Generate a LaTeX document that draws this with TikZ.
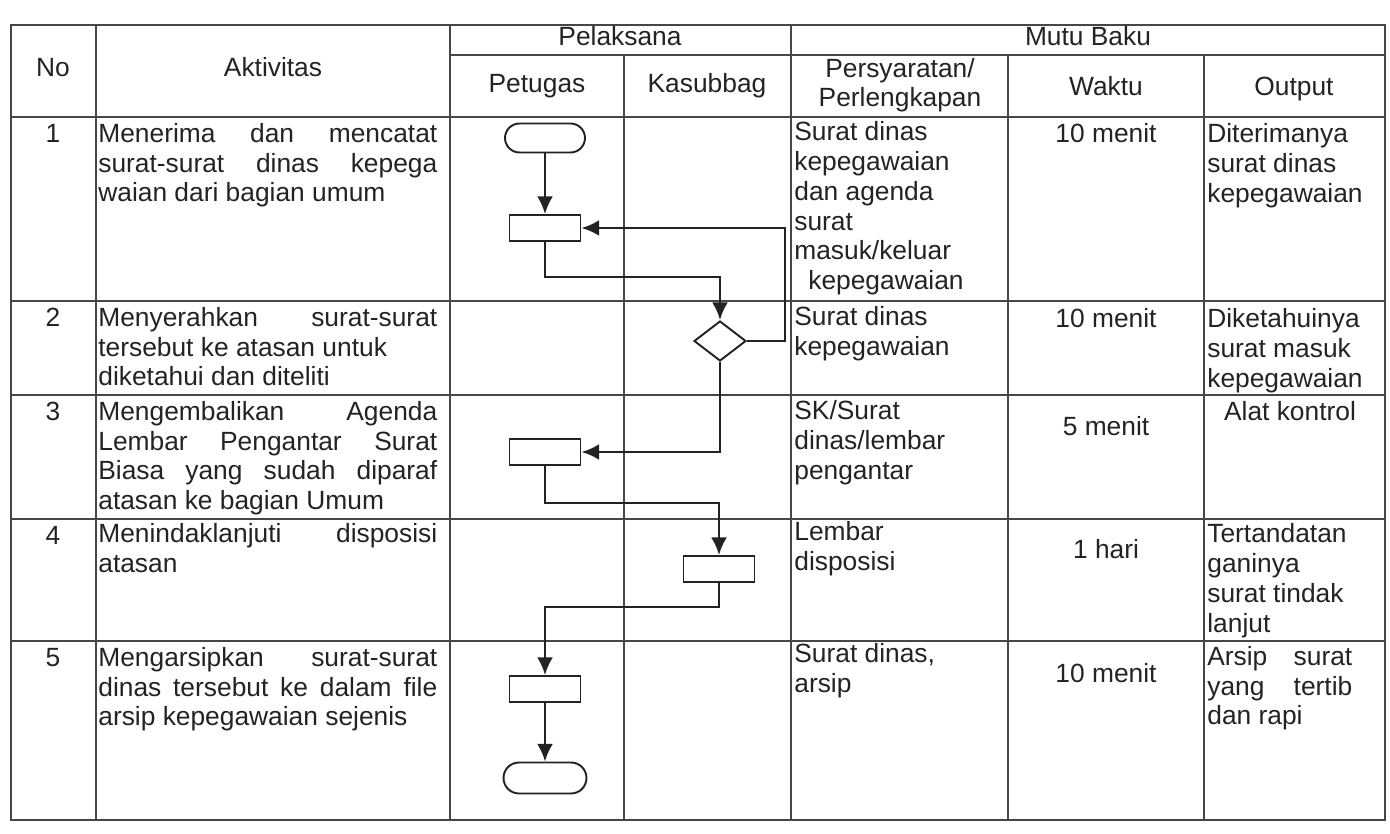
\documentclass[tikz,border=0pt]{standalone}
\usepackage{fontspec}
\setmainfont{Liberation Sans}
\usetikzlibrary{arrows.meta,shapes.geometric,shapes.misc}

\definecolor{tinta}{RGB}{35,35,35}
\definecolor{abu}{RGB}{70,70,70}
\newcommand{\isi}{\fontsize{15}{17}\selectfont\tolerance=9999\hyphenpenalty=10000\relax}

\begin{document}
\begin{tikzpicture}[x=0.02cm, y=-0.02cm, >={Latex[length=10pt, width=9pt]},
        garis/.style={draw=abu, line width=0.6pt},
        teks/.style={inner sep=0pt, font=\isi, text=tinta, execute at begin node=\strut},
        alur/.style={draw=tinta, line width=1.4pt},
        proses/.style={draw=tinta, line width=1.1pt, rectangle, minimum width=1.42cm, minimum height=0.52cm, inner sep=0pt},
        terminal/.style={draw=tinta, line width=1.1pt, rounded rectangle, minimum width=1.6cm, minimum height=0.58cm, inner sep=0pt},
        putusan/.style={draw=tinta, line width=1.1pt, diamond, minimum width=1.04cm, minimum height=0.8cm, inner sep=0pt}]
    \fill[white] (0,0) rectangle (1390,834);
    \useasboundingbox (0,0) rectangle (1390,834);

    % Griglia della tabella
    \draw[garis] (11,25) rectangle (1385,820);
    \draw[garis] (450,55) -- (1385,55);
    \draw[garis] (11,117) -- (1385,117);
    \foreach \y in {301,395,519,641}
        \draw[garis] (11,\y) -- (1385,\y);
    \draw[garis] (96,25) -- (96,820);
    \draw[garis] (450,25) -- (450,820);
    \draw[garis] (624,55) -- (624,820);
    \draw[garis] (791,25) -- (791,820);
    \draw[garis] (1008,55) -- (1008,820);
    \draw[garis] (1204,55) -- (1204,820);

    % Intestazione
    \node[teks] (hno) at (53,71) {No};
    \node[teks] (hakt) at (273,71) {Aktivitas};
    \node[teks] (hpel) at (620,40) {Pelaksana};
    \node[teks] (hmutu) at (1088,40) {Mutu Baku};
    \node[teks] (hpet) at (537,87) {Petugas};
    \node[teks] (hkas) at (707,87) {Kasubbag};
    \node[teks, align=center] (hsyarat) at (900,87) {Persyaratan/\\Perlengkapan};
    \node[teks] (hwaktu) at (1106,90) {Waktu};
    \node[teks] (hout) at (1294,90) {Output};

    % Colonna No
    \node[teks, anchor=north] (no1) at (53,121) {1};
    \node[teks, anchor=north] (no2) at (53,305) {2};
    \node[teks, anchor=north] (no3) at (53,399) {3};
    \node[teks, anchor=north] (no4) at (53,523) {4};
    \node[teks, anchor=north] (no5) at (53,645) {5};

    % Colonna Aktivitas
    \node[teks, anchor=north west, text width=6.78cm, align=justify] (akt1) at (98,121)
        {Menerima dan mencatat\linebreak surat-surat dinas kepega\linebreak waian dari bagian umum};
    \node[teks, anchor=north west, text width=6.78cm, align=justify] (akt2) at (98,305)
        {Menyerahkan surat-surat\linebreak tersebut ke atasan untuk\\ diketahui dan diteliti};
    \node[teks, anchor=north west, text width=6.78cm, align=justify] (akt3) at (98,399)
        {Mengembalikan Agenda\linebreak Lembar Pengantar Surat\linebreak Biasa yang sudah diparaf\linebreak atasan ke bagian Umum};
    \node[teks, anchor=north west, text width=6.78cm, align=justify] (akt4) at (98,521)
        {Menindaklanjuti disposisi\linebreak atasan};
    \node[teks, anchor=north west, text width=6.78cm, align=justify] (akt5) at (98,645)
        {Mengarsipkan surat-surat\linebreak dinas tersebut ke dalam file\linebreak arsip kepegawaian sejenis};

    % Colonna Persyaratan/Perlengkapan
    \node[teks, anchor=north west, align=left] (syarat1) at (794,121)
        {Surat dinas\\kepegawaian\\dan agenda\\surat\\masuk/keluar\\\hspace*{0.28cm}kepegawaian};
    \node[teks, anchor=north west, align=left] (syarat2) at (794,306) {Surat dinas\\kepegawaian};
    \node[teks, anchor=north west, align=left] (syarat3) at (794,400) {SK/Surat\\dinas/lembar\\pengantar};
    \node[teks, anchor=north west, align=left] (syarat4) at (794,521) {Lembar\\disposisi};
    \node[teks, anchor=north west, align=left] (syarat5) at (794,643) {Surat dinas,\\arsip};

    % Colonna Waktu
    \node[teks, anchor=north] (waktu1) at (1106,121) {10 menit};
    \node[teks, anchor=north] (waktu2) at (1106,306) {10 menit};
    \node[teks, anchor=north] (waktu3) at (1106,414) {5 menit};
    \node[teks, anchor=north] (waktu4) at (1106,537) {1 hari};
    \node[teks, anchor=north] (waktu5) at (1106,661) {10 menit};

    % Colonna Output
    \node[teks, anchor=north west, align=left] (out1) at (1207,123) {Diterimanya\\surat dinas\\kepegawaian};
    \node[teks, anchor=north west, align=left] (out2) at (1207,308) {Diketahuinya\\surat masuk\\kepegawaian};
    \node[teks, anchor=north] (out3) at (1290,399) {Alat kontrol};
    \node[teks, anchor=north west, align=left] (out4) at (1207,523) {Tertandatan\\ganinya\\surat tindak\\lanjut};
    \node[teks, anchor=north west, text width=2.9cm, align=justify] (out5) at (1207,644)
        {Arsip surat\linebreak yang tertib\linebreak dan rapi};

    % Blocchi del diagramma di flusso
    \node[terminal] (mulai) at (545,138) {};
    \node[proses] (terima) at (545,228) {};
    \node[putusan] (cek) at (720,341) {};
    \node[proses] (kembali) at (545,452) {};
    \node[proses] (tindak) at (719,569) {};
    \node[proses] (arsip) at (545,689) {};
    \node[terminal, minimum width=1.66cm, minimum height=0.62cm] (selesai) at (545,778) {};

    % Collegamenti
    \draw[alur, ->] (mulai) -- (terima);
    \draw[alur, ->] (terima.south) -- +(0,35) -| (cek.north);
    \draw[alur, ->] (cek.east) -- +(38,0) |- (terima.east);
    \draw[alur, ->] (cek.south) |- (kembali.east);
    \draw[alur, ->] (kembali.south) -- +(0,37) -| (tindak.north);
    \draw[alur, ->] (tindak.south) -- +(0,24) -| (arsip.north);
    \draw[alur, ->] (arsip) -- (selesai);
\end{tikzpicture}
\end{document}
